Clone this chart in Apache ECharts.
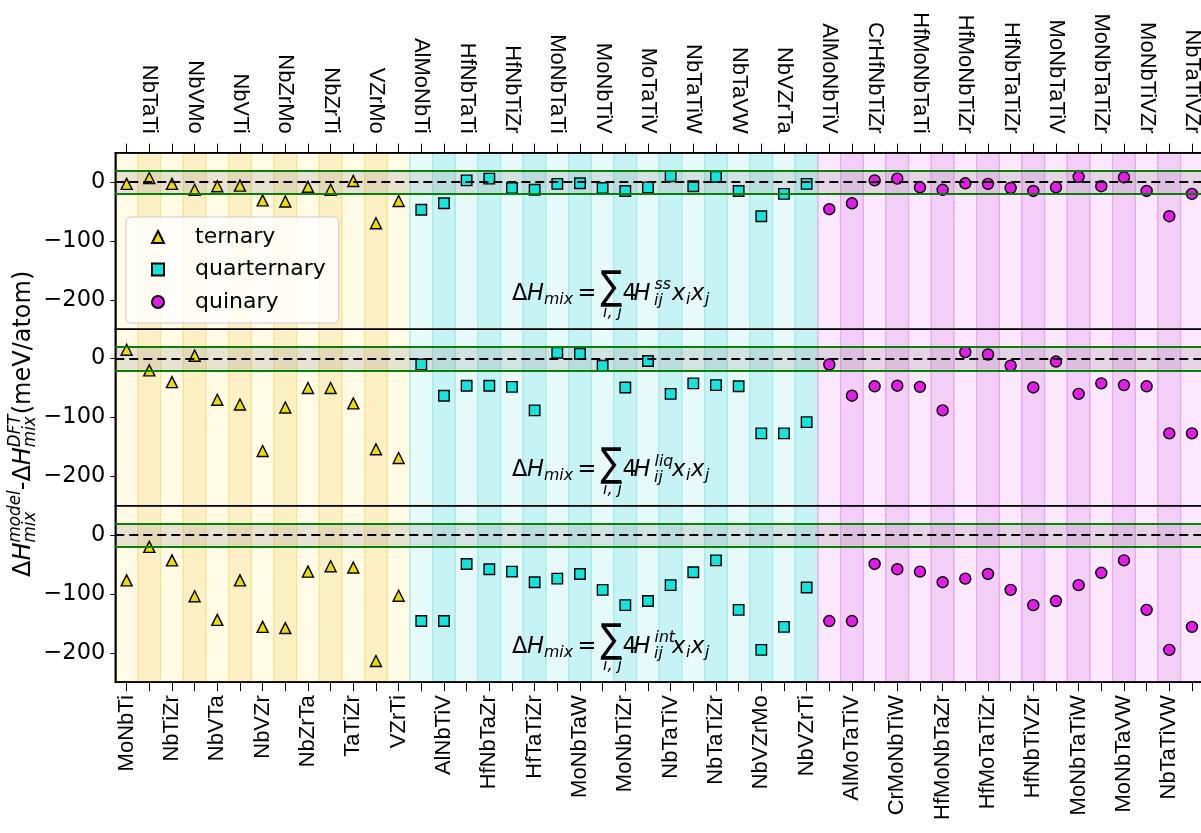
<!DOCTYPE html>
<html>
<head>
<meta charset="utf-8">
<script src="https://cdn.jsdelivr.net/npm/echarts@6/dist/echarts.min.js"></script>
<style>
  html, body { margin: 0; padding: 0; background: #fff; }
  #chart { width: 1201px; height: 833px; }
</style>
</head>
<body>
<div id="chart"></div>
<script>
// alloy names, alphabetical inside each family
const ternaryNames = ["MoNbTi", "NbTaTi", "NbTiZr", "NbVMo", "NbVTa", "NbVTi", "NbVZr", "NbZrMo", "NbZrTa", "NbZrTi", "TaTiZr", "VZrMo", "VZrTi"];
const quaternaryNames = ["AlMoNbTi", "AlNbTiV", "HfNbTaTi", "HfNbTaZr", "HfNbTiZr", "HfTaTiZr", "MoNbTaTi", "MoNbTaW", "MoNbTiV", "MoNbTiZr", "MoTaTiV", "NbTaTiV", "NbTaTiW", "NbTaTiZr", "NbTaVW", "NbVZrMo", "NbVZrTa", "NbVZrTi"];
const quinaryNames = ["AlMoNbTiV", "AlMoTaTiV", "CrHfNbTiZr", "CrMoNbTiW", "HfMoNbTaTi", "HfMoNbTaZr", "HfMoNbTiZr", "HfMoTaTiZr", "HfNbTaTiZr", "HfNbTiVZr", "MoNbTaTiV", "MoNbTaTiW", "MoNbTaTiZr", "MoNbTaVW", "MoNbTiVZr", "NbTaTiVW", "NbTaTiVZr"];

// model - DFT (meV/atom), top panel: H^ss
const ssTernary = [-3, 7, -3, -13, -7, -6, -31, -33, -8, -13, 2, -70, -32];
const ssQuaternary = [-47, -36, 3, 6, -10, -13, -3, -2, -10, -15, -9, 10, -7, 9, -15, -58, -20, -3];
const ssQuinary = [-46, -36, 3, 6, -9, -13, -2, -3, -10, -15, -9, 9, -7, 8, -15, -58, -20];

// middle panel: H^liq
const liqTernary = [15, -20, -40, 5, -70, -78, -157, -83, -50, -50, -76, -154, -169];
const liqQuaternary = [-10, -63, -46, -46, -48, -88, 10, 8, -12, -49, -4, -60, -42, -45, -47, -127, -127, -108];
const liqQuinary = [-10, -63, -47, -46, -48, -88, 11, 7, -12, -49, -5, -60, -42, -45, -47, -127, -127];

// bottom panel: H^int
const intTernary = [-77, -20, -43, -104, -144, -77, -156, -158, -62, -53, -55, -214, -103];
const intQuaternary = [-146, -146, -49, -58, -62, -80, -74, -66, -93, -119, -112, -85, -63, -43, -127, -195, -156, -89];
const intQuinary = [-146, -146, -49, -58, -62, -80, -74, -66, -93, -119, -112, -85, -64, -43, -127, -195, -156];

const yTicks = [-200, -100, 0];
const yMin = -250, yMax = 50;
const tol = 20;

const categories = ternaryNames.concat(quaternaryNames, quinaryNames);
const families = [ternaryNames, quaternaryNames, quinaryNames];

// band colours: [light, dark], edge
const bandFill = [["#fffbe4", "#fcefc4"], ["#e6fafa", "#c6f3f3"], ["#fce8fc", "#f3cff7"]];
const bandEdge = ["#f5e39c", "#a6e9ec", "#e9a8f0"];

let bandData = [];
let k = 0;
families.forEach(function (names, g) {
  names.forEach(function (n, j) {
    bandData.push([k, g, j % 2]);
    k++;
  });
});

const panelTops = [152.7, 329.2, 505.7];
const panelH = 176.5;
const gridLeft = 115.3, gridWidth = 1088;

const panels = [
  [ssTernary, ssQuaternary, ssQuinary, "ss"],
  [liqTernary, liqQuaternary, liqQuinary, "liq"],
  [intTernary, intQuaternary, intQuinary, "int"],
];

const markerStyle = [
  { name: "ternary", symbol: "triangle", color: "#ecdc00", size: 11 },
  { name: "quarternary", symbol: "rect", color: "#14e4dc", size: 10.5 },
  { name: "quinary", symbol: "circle", color: "#e31ce8", size: 11 },
];

const FONT = "DejaVu Sans";

function minus(v) {
  return v < 0 ? "\u2212" + Math.abs(v) : String(v);
}

function txt(s, x, base, fs, italic, extra) {
  let el = {
    type: "text", x: x, y: base - 0.35 * fs,
    style: {
      text: s, fontSize: fs, fontFamily: FONT, fontStyle: italic ? "italic" : "normal",
      fill: "#000", align: "left", verticalAlign: "middle", textAlign: "left", textVerticalAlign: "middle",
    },
  };
  return Object.assign(el, extra || {});
}

function formula(sup, top) {
  const B = top + 149, M = 22.5, S = 15.75;
  return {
    type: "group", z: 0, children: [
      txt("\u0394", 512, B, M, false),
      txt("H", 527, B, M, true),
      txt("mix", 544, B + 3.5, S, true),
      txt("=", 577.5, B, M, false),
      txt("\u2211", 600.5, B + 1, 40, false, { scaleX: 0.8 }),
      txt("i, j", 603, B + 17, S, true),
      txt("4", 622.5, B, M, false),
      txt("H", 633.5, B, M, true),
      txt(sup, 654.5, B - 11, S, true),
      txt("ij", 654, B + 5, S, true),
      txt("x", 672, B, M, true),
      txt("i", 686, B + 3.5, S, true),
      txt("x", 691, B, M, true),
      txt("j", 705, B + 3.5, S, true),
    ],
  };
}

let grids = [], xAxes = [], yAxes = [], series = [], graphics = [];

panels.forEach(function (p, gi) {
  grids.push({
    left: gridLeft, top: panelTops[gi], width: gridWidth, height: panelH,
    show: true, borderColor: "#000", borderWidth: 1.5, backgroundColor: "transparent",
    containLabel: false, outerBoundsMode: "none",
  });
  let xa = {
    type: "category", gridIndex: gi, data: categories, boundaryGap: true,
    axisLine: { show: gi !== 1, onZero: false, lineStyle: { color: "#000", width: 1.5 } },
    axisTick: { show: gi !== 1, interval: 0, alignWithLabel: true, length: 9, lineStyle: { color: "#000", width: 1 } },
    axisLabel: { show: false },
    splitLine: { show: false },
  };
  if (gi === 0) {
    xa.position = "top";
    xa.axisLabel = {
      show: true, rotate: 90, margin: 19, color: "#000", fontSize: 22, fontFamily: "Liberation Sans",
      interval: function (i) { return i % 2 === 1; },
    };
  } else if (gi === 2) {
    xa.position = "bottom";
    xa.axisLabel = {
      show: true, rotate: 90, margin: 13, color: "#000", fontSize: 22, fontFamily: "Liberation Sans",
      interval: function (i) { return i % 2 === 0; },
    };
  }
  xAxes.push(xa);
  yAxes.push({
    type: "value", gridIndex: gi, min: yMin, max: yMax,
    axisLine: { show: true, lineStyle: { color: "#000", width: 1.5 } },
    axisTick: { show: true, length: 5, customValues: yTicks, lineStyle: { color: "#000", width: 1 } },
    axisLabel: {
      show: true, customValues: yTicks, color: "#000", fontSize: 22.5, fontFamily: FONT,
      fontStyle: "normal", fontWeight: "normal", margin: 10, formatter: minus,
    },
    splitLine: { show: false },
  });

  // coloured vertical bands, one per alloy
  series.push({
    type: "custom", xAxisIndex: gi, yAxisIndex: gi, z: -1, silent: true,
    data: bandData,
    renderItem: function (params, api) {
      const c = api.coord([api.value(0), 0]);
      const w = api.size([1, 0])[0];
      const cs = params.coordSys;
      const g = api.value(1), d = api.value(2);
      return {
        type: "rect",
        shape: { x: c[0] - w / 2, y: cs.y, width: w, height: cs.height },
        style: { fill: bandFill[g][d], stroke: bandEdge[g], lineWidth: 1.2 },
      };
    },
  });

  // +-20 band, zero line
  series.push({
    type: "scatter", xAxisIndex: gi, yAxisIndex: gi, data: [], z: 1, silent: true,
    markArea: {
      silent: true,
      itemStyle: { color: "rgba(110,110,110,0.17)" },
      data: [[{ yAxis: -tol }, { yAxis: tol }]],
    },
    markLine: {
      silent: true, symbol: "none", label: { show: false },
      data: [
        { yAxis: tol, lineStyle: { color: "#0a800a", width: 2, type: "solid" } },
        { yAxis: -tol, lineStyle: { color: "#0a800a", width: 2, type: "solid" } },
        { yAxis: 0, lineStyle: { color: "#000", width: 2, type: [9, 5] } },
      ],
    },
  });

  families.forEach(function (names, fi) {
    const m = markerStyle[fi];
    series.push({
      name: m.name, type: "scatter", xAxisIndex: gi, yAxisIndex: gi, z: 3,
      symbol: m.symbol, symbolSize: m.size,
      itemStyle: { color: m.color, borderColor: "#000", borderWidth: 1.4, opacity: 1 },
      data: names.map(function (n, j) { return [n, p[fi][j]]; }),
    });
  });

  graphics.push(formula(p[3], panelTops[gi]));
});

// y axis title, rotated
const YF = 24, YS = 16.8;
graphics.push({
  type: "group", x: 32, y: 577, rotation: Math.PI / 2,
  children: [
    txt("\u0394", 0, 0, YF, false),
    txt("H", 16.4, 0, YF, true),
    txt("model", 34.4, -10, YS, true),
    txt("mix", 34.4, 5, YS, true),
    txt("-", 86.7, 0, YF, false),
    txt("\u0394", 95.4, 0, YF, false),
    txt("H", 111.8, 0, YF, true),
    txt("DFT", 129.8, -10, YS, true),
    txt("mix", 129.8, 5, YS, true),
    txt("(meV/atom)", 162.7, 0, YF, false),
  ],
});

const chart = echarts.init(document.getElementById("chart"), null, { renderer: "canvas" });
chart.setOption({
  animation: false,
  backgroundColor: "#fff",
  textStyle: { fontFamily: FONT },
  grid: grids,
  xAxis: xAxes,
  yAxis: yAxes,
  legend: {
    orient: "vertical", left: 126, top: 217,
    itemWidth: 12, itemHeight: 12, itemGap: 10.5,
    padding: [9, 13, 10, 25],
    backgroundColor: "rgba(255,255,255,0.8)", borderColor: "#cccccc", borderWidth: 1, borderRadius: 5,
    textStyle: { fontSize: 22, fontFamily: FONT, color: "#000", padding: [0, 0, 0, 26] },
    selectedMode: false,
    data: ["ternary", "quarternary", "quinary"],
  },
  graphic: { elements: graphics },
  series: series,
});
</script>
</body>
</html>
